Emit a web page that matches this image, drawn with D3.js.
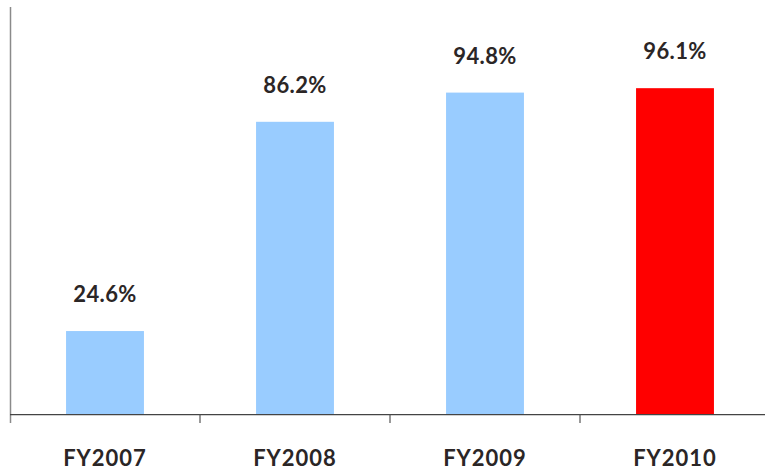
<!DOCTYPE html>
<html><head><meta charset="utf-8">
<script src="https://cdn.jsdelivr.net/npm/d3@7"></script>
<style>body{margin:0;background:#fff}svg{display:block}</style>
</head><body>
<svg id="c" width="765" height="471"></svg>
<script>
const categories = ["FY2007", "FY2008", "FY2009", "FY2010"];
const values = [24.6, 86.2, 94.8, 96.1];
const valueLabels = ["24.6%", "86.2%", "94.8%", "96.1%"];
const barColors = ["#99ccff", "#99ccff", "#99ccff", "#ff0000"];

const svg = d3.select("#c");
const x = d3.scaleBand().domain(categories).range([10, 770]).paddingInner(0.59).paddingOuter(0.295);
const y = d3.scaleLinear().domain([0, 120]).range([414.6, 7]);

// bars
svg.selectAll("rect.bar").data(values).join("rect")
  .attr("x", (d, i) => x(categories[i]))
  .attr("width", x.bandwidth())
  .attr("y", d => y(d))
  .attr("height", d => y(0) - y(d))
  .attr("fill", (d, i) => barColors[i]);

// y axis line
svg.append("line").attr("x1", 10.5).attr("x2", 10.5).attr("y1", y(120)).attr("y2", 423)
  .attr("stroke", "#8a8a8a").attr("stroke-width", 1.5);

// x axis baseline
svg.append("line").attr("x1", 10).attr("x2", 765).attr("y1", y(0)).attr("y2", y(0))
  .attr("stroke", "#444").attr("stroke-width", 1.2);

// category boundary ticks
const step = x.step();
categories.forEach((c, i) => {
  if (i === 0) return;
  const tx = x(c) - (step - x.bandwidth()) / 2;
  svg.append("line").attr("x1", tx).attr("x2", tx).attr("y1", y(0)).attr("y2", 423)
    .attr("stroke", "#555").attr("stroke-width", 1.2);
});

// value labels
svg.selectAll("text.val").data(values).join("text")
  .attr("x", (d, i) => x(categories[i]) + x.bandwidth() / 2)
  .attr("y", d => y(d) - 29)
  .attr("text-anchor", "middle")
  .attr("font-family", "Lato, 'Open Sans', sans-serif")
  .attr("font-weight", "bold")
  .attr("font-size", 22)
  .attr("letter-spacing", 0.4)
  .attr("fill", "#2b2626")
  .text((d, i) => valueLabels[i]);

// category labels
svg.selectAll("text.cat").data(categories).join("text")
  .attr("x", d => x(d) + x.bandwidth() / 2)
  .attr("y", 466)
  .attr("text-anchor", "middle")
  .attr("font-family", "Lato, 'Open Sans', sans-serif")
  .attr("font-weight", "bold")
  .attr("font-size", 22)
  .attr("letter-spacing", 1)
  .attr("fill", "#2b2626")
  .text(d => d);
</script>
</body></html>
